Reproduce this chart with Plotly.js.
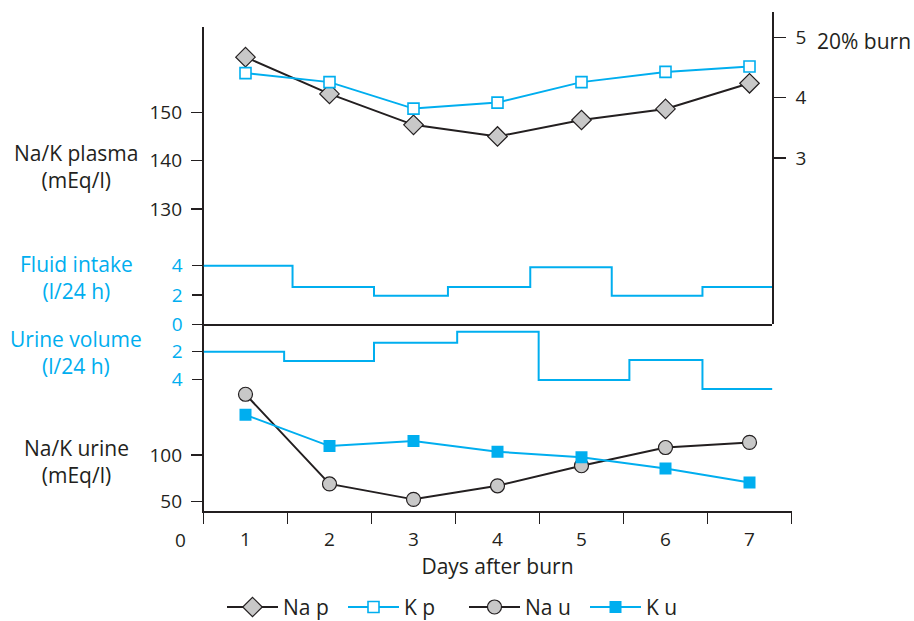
<!DOCTYPE html>
<html>
<head>
<meta charset="utf-8">
<script src="https://cdn.plot.ly/plotly-3.0.1.min.js"></script>
<style>html,body{margin:0;padding:0;background:#fff}#chart{width:914px;height:621px}</style>
</head>
<body>
<div id="chart"></div>
<script>
// ---- data ----
const days = [1, 2, 3, 4, 5, 6, 7];
const dayLabels = ['1', '2', '3', '4', '5', '6', '7'];
const naPlasma = [161.4, 153.8, 147.4, 145.0, 148.4, 150.7, 156.0];   // mEq/l
const kPlasma = [4.41, 4.26, 3.82, 3.92, 4.26, 4.43, 4.52];           // mEq/l (right axis)
const naUrine = [165, 69, 52.5, 67, 88.5, 108, 113.5];                // mEq/l
const kUrine = [143, 109.5, 115, 103.5, 97.5, 85.5, 70.5];            // mEq/l
const fluidBounds = [0.5, 1.56, 2.53, 3.41, 4.39, 5.36, 6.44, 7.27];  // day boundaries of steps
const fluidIntake = [4, 2.55, 1.95, 2.55, 3.9, 1.95, 2.55];           // l/24 h
const urineBounds = [0.5, 1.46, 2.53, 3.52, 4.49, 5.57, 6.44, 7.27];
const urineVolume = [2, 2.67, 1.35, 0.55, 4.05, 2.6, 4.7];            // l/24 h
const plasmaTicks = [130, 140, 150];
const kTicks = [3, 4, 5];
const fluidTicks = [0, 2, 4];
const urineVolTicks = [2, 4];
const urineTicks = [50, 100];

// ---- style ----
const INK = '#231f20';
const BLUE = '#00aeef';
const GREY = '#c8c8c8';
const FONT = 'Open Sans, Liberation Sans, Arial, sans-serif';
const TICK = 19, TXT = 21;
const W = 914, H = 621;
const px = p => p / W;
const py = p => 1 - p / H;

const stepY = v => v.concat([v[v.length - 1]]);

const traces = [
  {x: fluidBounds, y: stepY(fluidIntake), xaxis: 'x2', yaxis: 'y3', mode: 'lines',
   line: {color: BLUE, width: 2, shape: 'hv'}, showlegend: false, name: 'Fluid intake'},
  {x: urineBounds, y: stepY(urineVolume), xaxis: 'x', yaxis: 'y5', mode: 'lines',
   line: {color: BLUE, width: 2, shape: 'hv'}, showlegend: false, name: 'Urine volume'},
  {x: days, y: naPlasma, xaxis: 'x2', yaxis: 'y', mode: 'lines+markers', name: 'Na p',
   line: {color: INK, width: 2},
   marker: {symbol: 'diamond', size: 15, color: GREY, line: {color: INK, width: 1.2}}},
  {x: days, y: kPlasma, xaxis: 'x2', yaxis: 'y2', mode: 'lines+markers', name: 'K p',
   line: {color: BLUE, width: 2},
   marker: {symbol: 'square', size: 11, color: '#ffffff', line: {color: BLUE, width: 1.6}}},
  {x: days, y: naUrine, xaxis: 'x', yaxis: 'y4', mode: 'lines+markers', name: 'Na u',
   line: {color: INK, width: 2},
   marker: {symbol: 'circle', size: 14, color: GREY, line: {color: INK, width: 1.2}}},
  {x: days, y: kUrine, xaxis: 'x', yaxis: 'y4', mode: 'lines+markers', name: 'K u',
   line: {color: BLUE, width: 2},
   marker: {symbol: 'square', size: 12, color: BLUE, line: {color: BLUE, width: 0}}}
];

const baseY = {
  showgrid: false, zeroline: false, ticks: 'outside', ticklen: 11, tickwidth: 1.3,
  tickcolor: INK, linecolor: INK, linewidth: 1.6, tickmode: 'array',
  tickfont: {family: FONT, size: TICK, color: INK}, ticklabelstandoff: 5, fixedrange: true
};

const note = (text, x, y, color, xanchor) => ({
  text: text, x: px(x), y: py(y), xref: 'paper', yref: 'paper', showarrow: false,
  xanchor: xanchor || 'center', yanchor: 'middle', align: 'center',
  font: {family: FONT, size: TXT, color: color}
});

const topPx = 27, midPx = 324.3, botPx = 511, leftPx = 203.5;
const layout = {
  width: W, height: H,
  margin: {l: 0, r: 0, t: 0, b: 0, autoexpand: false},
  paper_bgcolor: '#ffffff', plot_bgcolor: 'rgba(0,0,0,0)',
  font: {family: FONT, size: TICK, color: INK},
  showlegend: true,
  legend: {orientation: 'h', x: px(222), xanchor: 'left', y: -0.011, yanchor: 'bottom',
           font: {family: FONT, size: TXT, color: INK}, itemwidth: 51, entrywidth: 55,
           tracegroupgap: 0, bgcolor: 'rgba(0,0,0,0)', borderwidth: 0},
  xaxis: {domain: [px(leftPx), px(791.5)], range: [0.5, 7.5], anchor: 'y4',
          showgrid: false, zeroline: false, showline: true, linecolor: INK, linewidth: 1.6,
          tickmode: 'array', tickvals: days, ticktext: dayLabels, ticks: '',
          ticklabelstandoff: 11,
          tickfont: {family: FONT, size: TICK, color: INK},
          minor: {tickmode: 'linear', tick0: 0.5, dtick: 1, ticks: 'outside', ticklen: 11,
                  tickwidth: 1.3, tickcolor: INK, showgrid: false},
          title: {text: 'Days after burn', font: {family: FONT, size: TXT, color: INK}, standoff: 8},
          fixedrange: true},
  xaxis2: {domain: [px(leftPx), px(772)], range: [0.5, 0.5 + (772 - leftPx) / 84], anchor: 'y',
           showgrid: false, zeroline: false, showline: true, linecolor: INK, linewidth: 1.6,
           ticks: '', showticklabels: false, fixedrange: true},
  yaxis: Object.assign({}, baseY, {
    domain: [py(midPx), py(topPx)], range: [106.15, 167.64], anchor: 'x2',
    showline: true, tickvals: plasmaTicks}),
  yaxis2: Object.assign({}, baseY, {
    domain: [py(midPx), py(12.3)], range: [0.234, 5.421], anchor: 'x2', side: 'right',
    showline: true, tickvals: kTicks, ticklen: 12, ticklabelstandoff: 6}),
  yaxis3: Object.assign({}, baseY, {
    domain: [py(midPx), py(topPx)], range: [0, 20.29], anchor: 'x2',
    showline: false, tickvals: fluidTicks,
    tickfont: {family: FONT, size: TICK, color: BLUE}}),
  yaxis4: Object.assign({}, baseY, {
    domain: [py(botPx), py(midPx)], range: [40.04, 239.9], anchor: 'x',
    showline: true, tickvals: urineTicks}),
  yaxis5: Object.assign({}, baseY, {
    domain: [py(botPx), py(midPx)], range: [13.58, 0], anchor: 'x',
    showline: false, tickvals: urineVolTicks,
    tickfont: {family: FONT, size: TICK, color: BLUE}}),
  annotations: [
    note('Na/K plasma<br>(mEq/l)', 76, 167, INK),
    note('Fluid intake<br>(l/24 h)', 76, 277, BLUE),
    note('Urine volume<br>(l/24 h)', 76, 352, BLUE),
    note('Na/K urine<br>(mEq/l)', 76, 461, INK),
    note('20% burn', 815, 41, INK, 'left'),
    note('0', 180, 540, INK)
  ]
};
layout.annotations[5].font = {family: FONT, size: TICK, color: INK};

Plotly.newPlot('chart', traces, layout, {displayModeBar: false, staticPlot: true});
</script>
</body>
</html>
